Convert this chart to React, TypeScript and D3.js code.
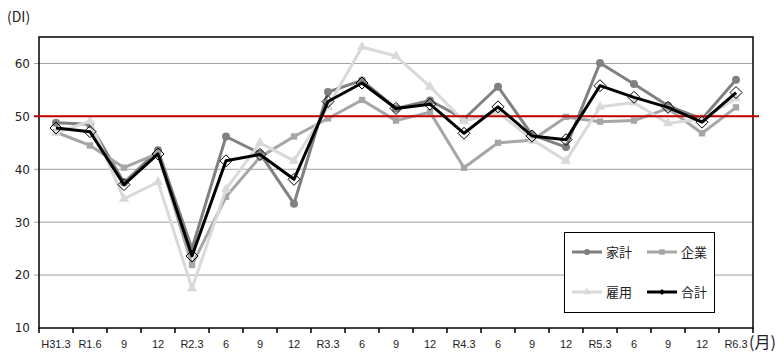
import React from "react";
import * as d3 from "d3";

const categories = ["H31.3","R1.6","9","12","R2.3","6","9","12","R3.3","6","9","12","R4.3","6","9","12","R5.3","6","9","12","R6.3"];
const household = [48.8,48.5,37.5,43.6,25.0,46.2,43.0,33.5,54.6,56.8,51.5,53.0,49.5,55.6,46.5,44.2,60.1,56.1,52.0,49.5,56.9];
const corporate = [47.0,44.5,40.3,43.0,21.9,34.8,42.3,46.2,49.6,53.1,49.2,50.8,40.3,45.0,45.5,49.9,49.0,49.2,51.5,46.8,51.7];
const employment = [46.9,49.1,34.4,37.6,17.5,36.2,45.0,41.6,51.8,63.1,61.4,55.6,49.1,50.8,45.6,41.6,51.8,52.6,48.7,49.5,53.4];
const total = [47.8,47.1,37.1,42.9,23.6,41.6,42.8,38.1,52.8,56.3,51.5,52.3,46.8,51.8,46.3,45.6,55.8,53.6,51.7,48.9,54.5];
const yTicks = [10,20,30,40,50,60];
const refValue = 50;

const W = 784, H = 362;
const left = 39, right = 753, top = 37, bottom = 328;

export default function App() {
  const x = d3.scaleBand<string>().domain(categories.map((_, i) => String(i))).range([left, right]).padding(0);
  const cx = (i: number) => (x(String(i)) as number) + x.bandwidth() / 2;
  const y = d3.scaleLinear().domain([10, 65]).range([bottom, top]);
  const line = d3.line<number>().x((_, i) => cx(i)).y((d) => y(d));

  const sym = (type: d3.SymbolType, size: number) => d3.symbol().type(type).size(size)() as string;
  const circlePath = sym(d3.symbolCircle, 50);
  const squarePath = sym(d3.symbolSquare, 40);
  const triPath = sym(d3.symbolTriangle, 45);
  const diamond = "M0,-6L6,0L0,6L-6,0Z";
  const smallDiamond = "M0,-3L3,0L0,3L-3,0Z";

  const series = [
    { name: "家計", data: household, color: "#808080", marker: circlePath },
    { name: "企業", data: corporate, color: "#a6a6a6", marker: squarePath },
    { name: "雇用", data: employment, color: "#d9d9d9", marker: triPath },
  ];

  const numFont = "'DejaVu Sans', Verdana, sans-serif";
  const labFont = "'Liberation Sans', Arial, sans-serif";
  const cjkFont = "'Noto Sans CJK JP', sans-serif";

  const legendItems = [
    { name: "家計", color: "#808080", marker: sym(d3.symbolCircle, 30), lx: 572, ly: 252 },
    { name: "企業", color: "#a6a6a6", marker: sym(d3.symbolSquare, 30), lx: 647, ly: 252 },
    { name: "雇用", color: "#d9d9d9", marker: sym(d3.symbolTriangle, 25), lx: 572, ly: 292 },
    { name: "合計", color: "#000000", marker: smallDiamond, lx: 647, ly: 292 },
  ];

  return (
    <svg width={W} height={H} style={{ position: "absolute", left: 0, top: 0, background: "#fff" }}>
      <rect x={0} y={0} width={W} height={H} fill="#fff" />
      {yTicks.filter((t) => t !== 10).map((t) => (
        <line key={t} x1={34} x2={right} y1={y(t)} y2={y(t)} stroke="#a0a0a0" strokeWidth={1} />
      ))}
      {yTicks.map((t) => (
        <text key={t} x={30} y={y(t)} dy="0.36em" textAnchor="end" fontSize={12} fontFamily={numFont} fill="#222">{t}</text>
      ))}
      <rect x={left} y={top} width={right - left} height={bottom - top} fill="none" stroke="#000" strokeWidth={1.5} />
      {d3.range(categories.length + 1).map((i) => (
        <line key={i} x1={left + i * x.bandwidth()} x2={left + i * x.bandwidth()} y1={bottom} y2={bottom + 5} stroke="#000" strokeWidth={1.5} />
      ))}
      {categories.map((c, i) => (
        <text key={i} x={cx(i)} y={348} textAnchor="middle" fontSize={11} fontFamily={labFont} fill="#222">{c}</text>
      ))}
      <text x={7} y={22} fontSize={14} fontFamily={cjkFont} fill="#222">(DI)</text>
      <text x={749} y={348} fontSize={16} fontFamily={cjkFont} fill="#222">(月)</text>
      {series.map((s) => (
        <g key={s.name}>
          <path d={line(s.data) as string} fill="none" stroke={s.color} strokeWidth={3} strokeLinejoin="round" />
          {s.data.map((d, i) => (
            <path key={i} d={s.marker} transform={`translate(${cx(i)},${y(d)})`} fill={s.color} />
          ))}
        </g>
      ))}
      <line x1={34} x2={759} y1={y(refValue)} y2={y(refValue)} stroke="#c00000" strokeWidth={2} />
      <path d={line(total) as string} fill="none" stroke="#000" strokeWidth={3} strokeLinejoin="round" />
      {total.map((d, i) => (
        <path key={i} d={diamond} transform={`translate(${cx(i)},${y(d)})`} fill="none" stroke="#000" strokeWidth={1} />
      ))}
      <rect x={564.5} y={232.5} width={150} height={80} fill="#fff" stroke="#000" strokeWidth={1} />
      {legendItems.map((l) => (
        <g key={l.name}>
          <line x1={l.lx} x2={l.lx + 30} y1={l.ly} y2={l.ly} stroke={l.color} strokeWidth={3} />
          <path d={l.marker} transform={`translate(${l.lx + 15},${l.ly})`} fill={l.color} />
          <text x={l.lx + 34} y={l.ly} dy="0.36em" fontSize={13} fontFamily={cjkFont} fill="#222">{l.name}</text>
        </g>
      ))}
    </svg>
  );
}
